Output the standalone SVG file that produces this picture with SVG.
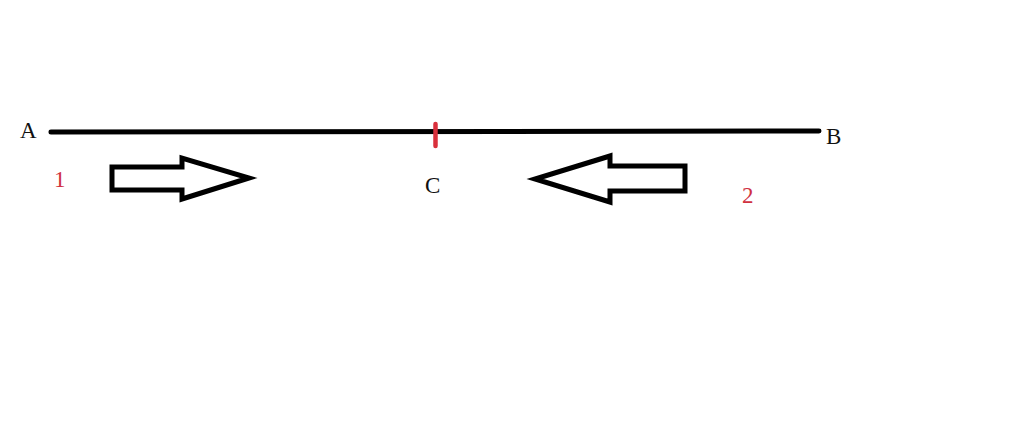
<svg xmlns="http://www.w3.org/2000/svg" width="1024" height="435" viewBox="0 0 1024 435">
<style>
.lbl{font-family:"Liberation Serif",serif;font-size:23px;fill:#111}
.num{font-family:"Liberation Serif",serif;font-size:23px;fill:#d0313f}
.arrow{fill:none;stroke:#000;stroke-width:5;stroke-linejoin:miter}
</style>
<rect width="1024" height="435" fill="#fff"/>
<g id="connectors">
<line x1="51" y1="132" x2="819" y2="131" stroke="#000" stroke-width="5" stroke-linecap="round"/>
</g>
<g id="pointC">
<line x1="435.5" y1="124" x2="435.5" y2="146" stroke="#d9303c" stroke-width="4.5" stroke-linecap="round"/>
<text class="lbl" x="425" y="193">C</text>
</g>
<g id="labelA"><text class="lbl" x="20" y="138">A</text></g>
<g id="labelB"><text class="lbl" x="826" y="144">B</text></g>
<g id="label1"><text class="num" x="54" y="187">1</text></g>
<g id="label2"><text class="num" x="742" y="203">2</text></g>
<g id="arrow1">
<path class="arrow" d="M112,167 L182,167 L182,158 L249,178 L182,199 L182,190 L112,190 Z"/>
</g>
<g id="arrow2">
<path class="arrow" d="M685,166 L610,166 L610,156 L535,179 L610,202 L610,191 L685,191 Z"/>
</g>
</svg>
